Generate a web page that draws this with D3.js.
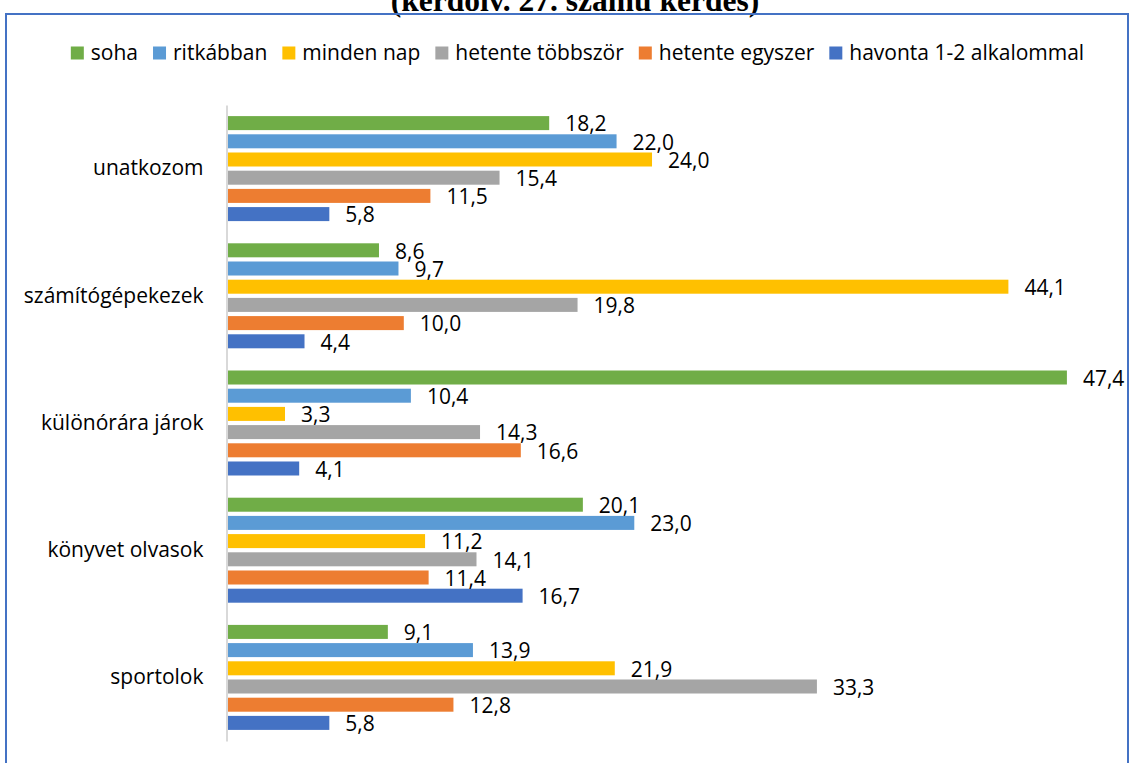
<!DOCTYPE html>
<html>
<head>
<meta charset="utf-8">
<script src="https://cdn.jsdelivr.net/npm/d3@7"></script>
<style>
  html, body { margin: 0; padding: 0; background: #fff; }
  svg { display: block; }
  text { font-family: "Open Sans", "Noto Sans", sans-serif; fill: #000; }
</style>
</head>
<body>
<svg id="chart" width="1131" height="763"></svg>
<script>
const categories = ["unatkozom", "számítógépekezek", "különórára járok", "könyvet olvasok", "sportolok"];
const seriesNames = ["soha", "ritkábban", "minden nap", "hetente többször", "hetente egyszer", "havonta 1-2 alkalommal"];
const seriesColors = ["#70AD47", "#5B9BD5", "#FFC000", "#A5A5A5", "#ED7D31", "#4472C4"];

// one array per series, in category order
const soha = [18.2, 8.6, 47.4, 20.1, 9.1];
const ritkabban = [22.0, 9.7, 10.4, 23.0, 13.9];
const mindenNap = [24.0, 44.1, 3.3, 11.2, 21.9];
const hetenteTobbszor = [15.4, 19.8, 14.3, 14.1, 33.3];
const hetenteEgyszer = [11.5, 10.0, 16.6, 11.4, 12.8];
const havonta = [5.8, 4.4, 4.1, 16.7, 5.8];

const titleText = "(kérdőív. 27. számú kérdés)";

const seriesValues = [soha, ritkabban, mindenNap, hetenteTobbszor, hetenteEgyszer, havonta];

const svg = d3.select("#chart");
const fmt = d3.formatLocale({decimal: ",", thousands: " ", grouping: [3], currency: ["", ""]}).format(".1f");

// title, cut off at the top like in the source page
svg.append("text")
    .attr("x", 575)
    .attr("y", 11)
    .attr("text-anchor", "middle")
    .style("font-family", "'Liberation Serif', 'Times New Roman', serif")
    .style("font-weight", "bold")
    .style("font-size", "31.5px")
    .text(titleText);

// frame
svg.append("rect")
    .attr("x", 6)
    .attr("y", 14)
    .attr("width", 1122)
    .attr("height", 800)
    .attr("fill", "none")
    .attr("stroke", "#4472C4")
    .attr("stroke-width", 2);

// scales
const x = d3.scaleLinear().domain([0, 50]).range([226.5, 1113]);
const y = d3.scaleBand().domain(categories).range([105, 741]).padding(0);
const ySub = d3.scaleBand()
    .domain(d3.range(seriesNames.length))
    .range([0, y.bandwidth()])
    .paddingInner(0.23)
    .paddingOuter(0.61);

// bars
const rows = [];
categories.forEach((c, ci) => {
    seriesValues.forEach((vals, si) => {
        rows.push({cat: c, s: si, v: vals[ci]});
    });
});

const plot = svg.append("g");

plot.selectAll("rect.bar")
    .data(rows)
    .enter().append("rect")
    .attr("class", "bar")
    .attr("x", x(0))
    .attr("y", d => y(d.cat) + ySub(d.s))
    .attr("width", d => x(d.v) - x(0))
    .attr("height", ySub.bandwidth())
    .attr("fill", d => seriesColors[d.s]);

plot.selectAll("text.val")
    .data(rows)
    .enter().append("text")
    .attr("class", "val")
    .attr("x", d => x(d.v) + 16)
    .attr("y", d => y(d.cat) + ySub(d.s) + ySub.bandwidth() / 2 + 1)
    .attr("dy", "0.35em")
    .style("font-size", "21px")
    .text(d => fmt(d.v));

// category axis
const axis = svg.append("g")
    .attr("transform", `translate(${x(0)},0)`)
    .call(d3.axisLeft(y).tickSize(0).tickPadding(23));

axis.select(".domain")
    .attr("stroke", "#D9D9D9")
    .attr("stroke-width", 2);

axis.selectAll("text")
    .style("font-family", "'Open Sans', 'Noto Sans', sans-serif")
    .style("font-size", "21px")
    .attr("fill", "#000");

// legend
const legend = svg.append("g");
const items = legend.selectAll("g")
    .data(seriesNames)
    .enter().append("g");

items.append("rect")
    .attr("width", 13)
    .attr("height", 13)
    .attr("y", -6.5)
    .attr("fill", (d, i) => seriesColors[i]);

items.append("text")
    .attr("x", 20)
    .attr("dy", "0.35em")
    .style("font-size", "21px")
    .text(d => d);

let cursor = 0;
const offsets = [];
items.each(function() {
    const w = d3.select(this).select("text").node().getComputedTextLength();
    offsets.push(cursor);
    cursor += 20 + w + 15;
});
const total = cursor - 15;
const startX = 577.5 - total / 2;
items.attr("transform", (d, i) => `translate(${startX + offsets[i]},53)`);
</script>
</body>
</html>
